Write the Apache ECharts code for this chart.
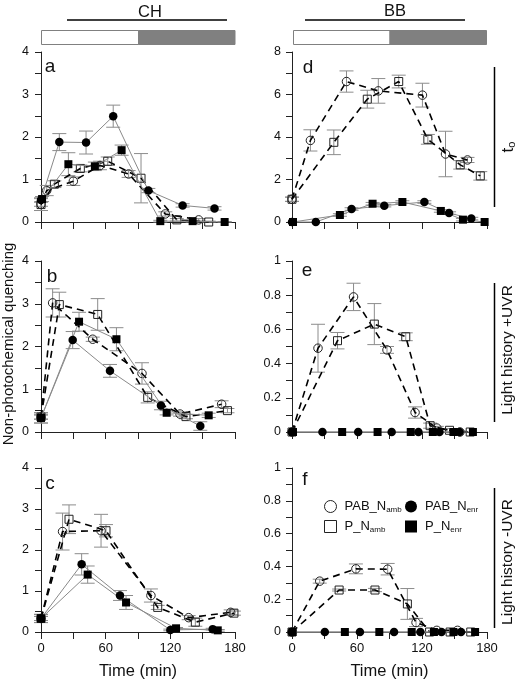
<!DOCTYPE html>
<html><head><meta charset="utf-8">
<script src="https://cdn.jsdelivr.net/npm/echarts@6/dist/echarts.min.js"></script>
<style>html,body{margin:0;padding:0;background:#fff}#c{width:520px;height:681px}</style>
</head><body><div id="c"></div>
<script>
// ---- DATA: each point is [time (min), NPQ value, error (sd)] ----
// Panel a (CH, t0)
const a_PAB_amb = [[0,0.42,0.05],[5.3,0.74,0.12],[30,0.96,0.1],[54.7,1.33,0.1],[81.3,1.13,0.08],[115.3,0.19,0.05],[146.3,0.05,0.03]];
const a_P_amb   = [[0,0.41,0.14],[12.4,0.89,0.08],[36.5,1.26,0.08],[61.9,1.43,0.1],[92.8,1.03,0.58],[126,0.05,0.03],[155.6,0.0,0.02]];
const a_PAB_enr = [[0,0.52,0.05],[17,1.88,0.2],[41.8,1.87,0.27],[67,2.49,0.26],[99.6,0.74,0.05],[131.4,0.39,0.04],[161,0.32,0.04]];
const a_P_enr   = [[1,0.54,0.06],[25.4,1.36,0.27],[50,1.31,0.1],[74.8,1.69,0.12],[110.7,0.02,0.02],[140.7,0.02,0.02],[170.4,0.0,0.01]];
// Panel b (CH, light history +UVR)
const b_PAB_amb = [[0,0.35,0.05],[10.8,3.02,0.33],[48,2.17,0.05],[93.7,1.37,0.25],[129,0.42,0.05],[167.6,0.65,0.08]];
const b_P_amb   = [[0,0.35,0.05],[17,2.98,0.29],[52.6,2.75,0.37],[99,0.81,0.13],[134.5,0.36,0.05],[173,0.5,0.05]];
const b_PAB_enr = [[0,0.33,0.12],[29.4,2.15,0.2],[64,1.43,0.15],[111.3,0.62,0.1],[147.8,0.14,0.1]];
const b_P_enr   = [[0,0.33,0.12],[35.3,2.58,0.22],[70,2.17,0.27],[116.6,0.45,0.05],[155.6,0.39,0.05]];
// Panel c (CH, light history -UVR)
const c_PAB_amb = [[0,0.33,0.05],[20,2.45,0.45],[55.7,2.47,0.4],[102,0.89,0.16],[137,0.35,0.05],[176,0.48,0.06]];
const c_P_amb   = [[0,0.33,0.05],[26,2.75,0.35],[60.3,2.47,0.15],[108.3,0.6,0.05],[143.2,0.24,0.1],[179,0.46,0.05]];
const c_PAB_enr = [[0,0.33,0.1],[37.7,1.65,0.26],[73.3,0.89,0.12],[120,0.05,0.02],[159.3,0.07,0.02]];
const c_P_enr   = [[0,0.33,0.1],[43.3,1.4,0.21],[78.9,0.72,0.17],[125.3,0.09,0.02],[164,0.04,0.02]];
// Panel d (BB, t0)
const d_PAB_amb = [[0,1.07,0.1],[17,3.84,0.5],[50.3,6.61,0.5],[79.7,6.17,0.58],[120.4,5.97,0.56],[141.7,3.2,1.07],[162,2.92,0.12]];
const d_P_amb   = [[0,1.07,0.1],[38.6,3.75,0.58],[69.5,5.78,0.42],[98.5,6.61,0.3],[125.4,3.89,0.23],[155.3,2.69,0.2],[173.8,2.17,0.2]];
const d_PAB_enr = [[0,0,0],[22,0,0],[55,0.61,0.06],[85.2,0.77,0.06],[122.2,0.94,0.06],[145,0.42,0.06],[165.5,0.16,0.06]];
const d_P_enr   = [[0.9,0,0],[44.2,0.33,0.06],[74.4,0.86,0.06],[101.9,0.94,0.06],[137.4,0.52,0.06],[157.8,0.11,0.06],[177.8,0,0]];
// Panel e (BB, light history +UVR)
const e_PAB_amb = [[0,0,0],[24,0.49,0.14],[56.8,0.79,0.08],[87.7,0.48,0.02],[113.6,0.114,0.033],[133.7,0.023,0.01],[155,0,0]];
const e_P_amb   = [[0,0,0],[42,0.534,0.048],[76,0.631,0.12],[105,0.557,0.023],[127.5,0.037,0.015],[145.4,0.01,0.01],[164.5,0,0]];
const e_PAB_enr = [[0,0,0],[28.1,0,0],[61.1,0,0],[92,0,0],[116.7,0,0],[136.1,0,0],[154.6,0,0]];
const e_P_enr   = [[0.9,0,0],[46.3,0,0],[79,0,0],[109.6,0,0],[130,0,0],[149,0,0],[167,0,0]];
// Panel f (BB, light history -UVR)
const f_PAB_amb = [[0,0,0],[25.6,0.31,0.012],[59,0.385,0.03],[88.3,0.383,0.035],[114.5,0.058,0.025],[133.7,0.01,0.005],[152.8,0.01,0.005]];
const f_P_amb   = [[0,0,0],[43.5,0.256,0.006],[76.6,0.256,0.01],[106.5,0.171,0.094],[127,0,0],[146,0,0],[165,0,0]];
const f_PAB_enr = [[0,0,0],[30.3,0,0],[62.7,0,0],[94.2,0,0],[118.5,0,0],[138,0,0],[156,0,0]];
const f_P_enr   = [[0.5,0,0],[48.8,0,0],[80.6,0,0],[110.5,0,0],[131,0,0],[149,0,0],[169,0,0]];

const seriesNames = ['PAB_Namb','P_Namb','PAB_Nenr','P_Nenr'];
const xTickLabels = [0, 60, 120, 180];
const panelLetters = ['a','b','c','d','e','f'];
const yMax = [4, 4, 4, 8, 1, 1];
const yStep = [1, 1, 1, 2, 0.2, 0.2];
const panelData = [
  [a_PAB_amb, a_P_amb, a_PAB_enr, a_P_enr],
  [b_PAB_amb, b_P_amb, b_PAB_enr, b_P_enr],
  [c_PAB_amb, c_P_amb, c_PAB_enr, c_P_enr],
  [d_PAB_amb, d_P_amb, d_PAB_enr, d_P_enr],
  [e_PAB_amb, e_P_amb, e_PAB_enr, e_P_enr],
  [f_PAB_amb, f_P_amb, f_PAB_enr, f_P_enr]
];

// ---- LAYOUT ----
const grids = [
  {left:41, top:52, width:194, height:170},
  {left:41, top:261, width:194, height:171},
  {left:41, top:468, width:194, height:171},
  {left:292, top:52, width:195, height:170},
  {left:292, top:261, width:195, height:171},
  {left:292, top:468, width:195, height:171}
];
const FONT = 'Liberation Sans, Arial, sans-serif';
const AX = '#222';
const isBottom = i => i === 2 || i === 5;

const xAxes = grids.map((g, i) => ({
  type:'value', gridIndex:i, min:0, max:180, interval:30,
  axisLine:{show:true, onZero:false, lineStyle:{color:AX, width:1}},
  axisTick:{show:true, length:7, lineStyle:{color:AX}},
  splitLine:{show:false},
  axisLabel:{show:isBottom(i), fontSize:13, color:'#111', margin:10, fontFamily:FONT,
    formatter: v => xTickLabels.indexOf(v) >= 0 ? String(v) : ''},
  name: isBottom(i) ? 'Time (min)' : '', nameLocation:'middle', nameGap:31,
  nameTextStyle:{fontSize:16.5, color:'#111', fontFamily:FONT}
}));
const yAxes = grids.map((g, i) => ({
  type:'value', gridIndex:i, min:0, max:yMax[i], interval:yStep[i],
  axisLine:{show:true, lineStyle:{color:AX, width:1}},
  axisTick:{show:true, length:6, lineStyle:{color:AX}},
  minorTick:{show:true, splitNumber:2, length:6, lineStyle:{color:AX}},
  splitLine:{show:false},
  axisLabel:{fontSize:12.5, color:'#111', margin:i < 3 ? 12 : 11, fontFamily:FONT}
}));

const series = [];
panelData.forEach((arrs, i) => {
  // error bars
  const errs = [];
  arrs.forEach(arr => arr.forEach(p => { if (p[2] > 0) errs.push([p[0], Math.max(0, p[1]-p[2]), p[1]+p[2]]); }));
  series.push({
    type:'custom', name:'err', xAxisIndex:i, yAxisIndex:i, data:errs, z:1, silent:true, clip:false,
    encode:{x:0, y:[1,2]},
    renderItem:(params, api) => {
      const x = api.value(0);
      const lo = api.coord([x, api.value(1)]);
      const hi = api.coord([x, api.value(2)]);
      const w = 7;
      const st = {stroke:'#8c8c8c', lineWidth:1};
      return {type:'group', children:[
        {type:'line', shape:{x1:lo[0], y1:lo[1], x2:hi[0], y2:hi[1]}, style:st},
        {type:'line', shape:{x1:lo[0]-w, y1:lo[1], x2:lo[0]+w, y2:lo[1]}, style:st},
        {type:'line', shape:{x1:hi[0]-w, y1:hi[1], x2:hi[0]+w, y2:hi[1]}, style:st}
      ]};
    }
  });
  arrs.forEach((arr, k) => {
    const open = k < 2;
    const sq = k % 2 === 1;
    series.push({
      type:'line', name:seriesNames[k], xAxisIndex:i, yAxisIndex:i,
      data: arr.map(p => [p[0], p[1]]),
      symbol: sq ? 'rect' : 'circle', symbolSize: sq ? 8 : 8.5,
      showAllSymbol:true, clip:false, silent:true,
      lineStyle: open ? {color:'#000', width:1.6, type:[7,5]} : {color:'#8a8a8a', width:1},
      itemStyle: open ? {color:'rgba(255,255,255,0)', borderColor:'#222', borderWidth:1} : {color:'#000', borderWidth:0},
      z: open ? 3 : 4
    });
  });
});

const legendItem = (name, icon, open, left, top, label) => ({
  left, top, orient:'horizontal', itemWidth:12, itemHeight:12, selectedMode:false,
  data:[{name, icon, itemStyle: open ? {color:'#fff', borderColor:'#222', borderWidth:1} : {color:'#000', borderWidth:0}}],
  formatter: () => label,
  textStyle:{fontFamily:FONT, color:'#111', padding:[0,0,0,3],
    rich:{m:{fontSize:13, lineHeight:15, fontFamily:FONT, color:'#111'},
          s:{fontSize:8, lineHeight:8, verticalAlign:'bottom', fontFamily:FONT, color:'#111', padding:[6,0,0,0]}}}
});

const graphic = [
  {type:'text', style:{text:'CH', x:150, y:12, fontSize:16.5, fontFamily:FONT, fill:'#111', align:'center', verticalAlign:'middle'}},
  {type:'text', style:{text:'BB', x:395, y:11, fontSize:16.5, fontFamily:FONT, fill:'#111', align:'center', verticalAlign:'middle'}},
  {type:'line', shape:{x1:67, y1:20, x2:227, y2:20}, style:{stroke:'#000', lineWidth:1.5}},
  {type:'line', shape:{x1:305, y1:20, x2:465, y2:20}, style:{stroke:'#000', lineWidth:1.5}},
  {type:'rect', shape:{x:41.5, y:30.5, width:97, height:14}, style:{fill:'#fff', stroke:'#808080', lineWidth:1}},
  {type:'rect', shape:{x:138.5, y:30.5, width:96.5, height:14}, style:{fill:'#808080', stroke:'#808080', lineWidth:1}},
  {type:'rect', shape:{x:293.5, y:30.5, width:96.5, height:14}, style:{fill:'#fff', stroke:'#808080', lineWidth:1}},
  {type:'rect', shape:{x:390, y:30.5, width:96.5, height:14}, style:{fill:'#808080', stroke:'#808080', lineWidth:1}},
  {type:'line', shape:{x1:494.5, y1:67, x2:494.5, y2:207}, style:{stroke:'#000', lineWidth:1.5}},
  {type:'line', shape:{x1:494.5, y1:283, x2:494.5, y2:422}, style:{stroke:'#000', lineWidth:1.5}},
  {type:'line', shape:{x1:494.5, y1:488, x2:494.5, y2:628}, style:{stroke:'#000', lineWidth:1.5}},
  {type:'text', x:508, y:147, rotation:Math.PI/2, style:{text:'{t|t}{s|o}', x:0, y:0, align:'center', verticalAlign:'middle',
    rich:{t:{fontSize:17, fontFamily:FONT, fill:'#111', lineHeight:18}, s:{fontSize:11, fontFamily:FONT, fill:'#111', lineHeight:10, verticalAlign:'bottom', padding:[8,0,0,0]}}}},
  {type:'text', x:508, y:350, rotation:Math.PI/2, style:{text:'Light history +UVR', x:0, y:0, align:'center', verticalAlign:'middle', fontSize:15.5, fontFamily:FONT, fill:'#111'}},
  {type:'text', x:508, y:562, rotation:Math.PI/2, style:{text:'Light history -UVR', x:0, y:0, align:'center', verticalAlign:'middle', fontSize:15.5, fontFamily:FONT, fill:'#111'}},
  {type:'text', x:9, y:344, rotation:Math.PI/2, style:{text:'Non-photochemical quenching', x:0, y:0, align:'center', verticalAlign:'middle', fontSize:15, fontFamily:FONT, fill:'#111'}}
];
const letterPos = [[50,67],[52,277],[50,484],[308,68],[307,271],[305,480]];
panelLetters.forEach((L, i) => graphic.push({type:'text', style:{text:L, x:letterPos[i][0], y:letterPos[i][1], fontSize:19, fontFamily:FONT, fill:'#111', align:'center', verticalAlign:'middle'}}));

const option = {
  animation:false,
  backgroundColor:'#fff',
  grid: grids,
  xAxis: xAxes,
  yAxis: yAxes,
  legend: [
    legendItem('PAB_Namb','circle',true,319,495,'{m|PAB_N}{s|amb}'),
    legendItem('P_Namb','rect',true,319,515,'{m|P_N}{s|amb}'),
    legendItem('PAB_Nenr','circle',false,400,495,'{m|PAB_N}{s|enr}'),
    legendItem('P_Nenr','rect',false,400,515,'{m|P_N}{s|enr}')
  ],
  series,
  graphic
};
const chart = echarts.init(document.getElementById('c'), null, {renderer:'canvas'});
chart.setOption(option);
</script></body></html>
